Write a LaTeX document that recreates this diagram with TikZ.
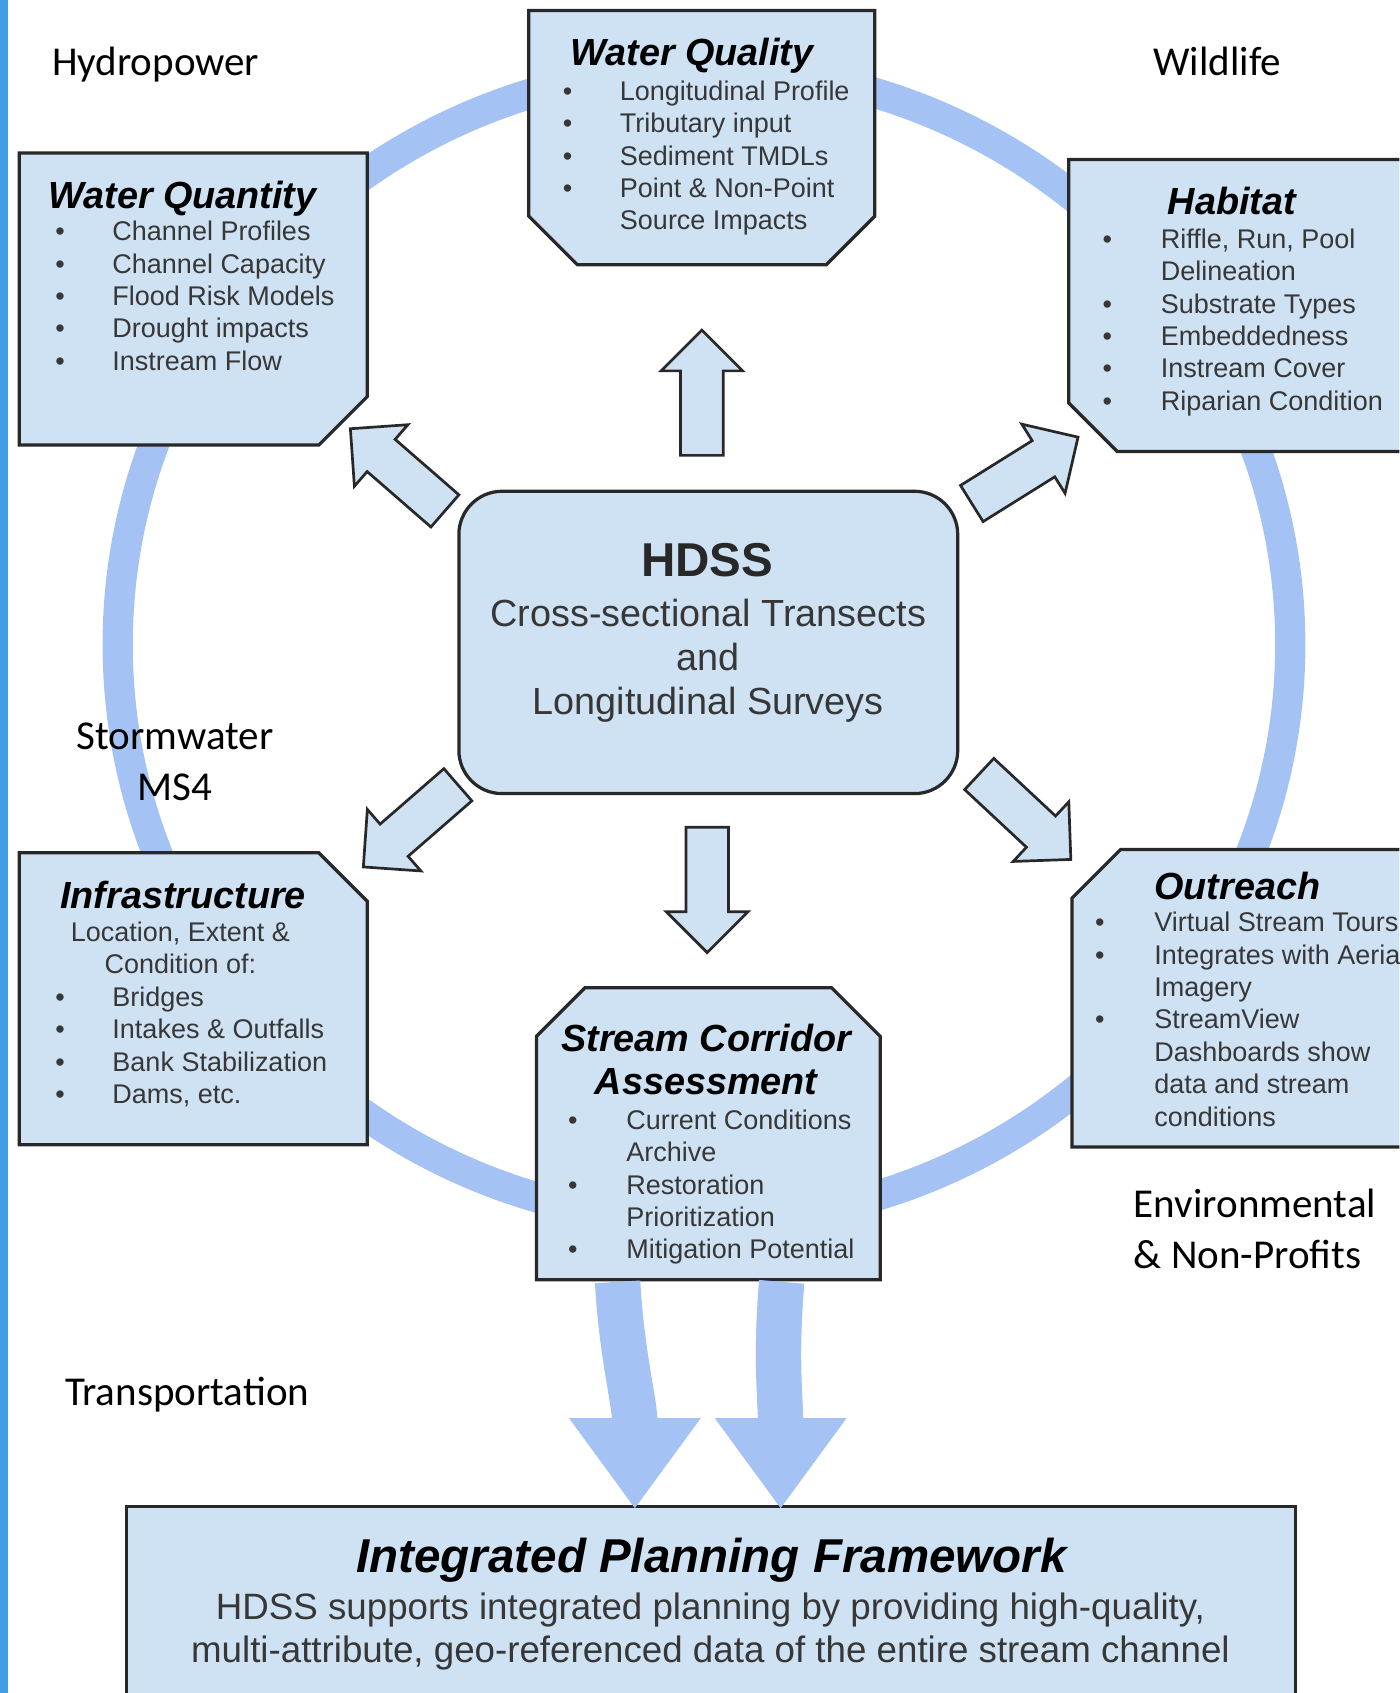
\documentclass[tikz,border=0pt]{standalone}
\usepackage{fontspec}
\setmainfont{Liberation Sans}
\newfontfamily\calibri{Carlito}
\usetikzlibrary{positioning, arrows.meta, shapes.arrows}

\definecolor{boxfill}{RGB}{207,226,243}
\definecolor{boxline}{RGB}{40,40,40}
\definecolor{ringblue}{RGB}{164,194,244}
\definecolor{edgeblue}{RGB}{62,160,226}
\definecolor{bodygray}{RGB}{55,55,55}

\newcommand{\bpt}{\textbullet}
\def\snip{45pt}

\begin{document}
\begin{tikzpicture}[
    x=1pt, y=-1pt,
    boxarea/.style={rectangle, inner sep=0pt},
    topicline/.style={draw=boxline, fill=boxfill, line width=3pt},
    boxtitle/.style={font=\fontsize{35}{40}\selectfont\bfseries\itshape, inner sep=0pt, anchor=base},
    bullets/.style={font=\fontsize{25}{30}\selectfont, text=bodygray, inner sep=0pt, anchor=base west},
    sidelabel/.style={font=\calibri\fontsize{38}{47}\selectfont, inner sep=0pt, anchor=base west},
    fanarrow/.style={single arrow, draw=boxline, fill=boxfill, line width=2.5pt, inner xsep=0pt, inner ysep=18.5pt,
        minimum height=116pt, minimum width=74pt, single arrow head extend=18pt, anchor=tail},
    bigarrow/.style={draw=ringblue, line width=42pt, -{Triangle[width=116pt, length=84pt]}}
]
    % Page
    \useasboundingbox (0,0) rectangle (1296,1568);
    \clip (0,0) rectangle (1296,1568);
    \fill[white] (0,0) rectangle (1296,1568);

    % Ring behind the boxes
    \draw[ringblue, line width=28pt] (652,597) ellipse [x radius=543pt, y radius=534pt];

    % Topic boxes (snipped corners)
    \node[boxarea, minimum width=320pt, minimum height=235pt] (wq) at (650,127.5) {};
    \draw[topicline] (wq.north west) -- (wq.north east) -- ([yshift=\snip]wq.south east)
        -- ([xshift=-\snip]wq.south east) -- ([xshift=\snip]wq.south west) -- ([yshift=\snip]wq.south west) -- cycle;

    \node[boxarea, minimum width=322pt, minimum height=270pt] (wqty) at (179,277) {};
    \draw[topicline] (wqty.north west) -- (wqty.north east) -- ([yshift=\snip]wqty.south east)
        -- ([xshift=-\snip]wqty.south east) -- (wqty.south west) -- cycle;

    \node[boxarea, minimum width=340pt, minimum height=270pt] (habitat) at (1160,283) {};
    \draw[topicline] (habitat.north west) -- (habitat.north east) -- (habitat.south east)
        -- ([xshift=\snip]habitat.south west) -- ([yshift=\snip]habitat.south west) -- cycle;

    \node[boxarea, minimum width=322pt, minimum height=270pt] (infra) at (179,925) {};
    \draw[topicline] (infra.north west) -- ([xshift=-\snip]infra.north east) -- ([yshift=-\snip]infra.north east)
        -- (infra.south east) -- (infra.south west) -- cycle;

    \node[boxarea, minimum width=318pt, minimum height=270pt] (sca) at (656,1050) {};
    \draw[topicline] ([xshift=\snip]sca.north west) -- ([xshift=-\snip]sca.north east) -- ([yshift=-\snip]sca.north east)
        -- (sca.south east) -- (sca.south west) -- ([yshift=-\snip]sca.north west) -- cycle;

    \node[boxarea, minimum width=337pt, minimum height=275pt] (outreach) at (1161.5,924.5) {};
    \draw[topicline] ([xshift=\snip]outreach.north west) -- (outreach.north east) -- (outreach.south east)
        -- (outreach.south west) -- ([yshift=-\snip]outreach.north west) -- cycle;

    % Centre and bottom boxes
    \node[draw=boxline, fill=boxfill, line width=3pt, rounded corners=40pt, minimum width=462pt, minimum height=280pt] (hdss) at (656,595) {};
    \node[draw=boxline, fill=boxfill, line width=3pt, minimum width=1083pt, minimum height=225pt] (fw) at (658.5,1507.5) {};

    % Block arrows out of HDSS
    \node[fanarrow, rotate=90] (toWQ) at (650,423) {};
    \node[fanarrow, rotate=-90] (toSCA) at (655,765) {};
    \node[fanarrow, rotate=139] (toWQty) at (413,474) {};
    \node[fanarrow, rotate=32] (toHabitat) at (899,467) {};
    \node[fanarrow, rotate=221] (toInfra) at (425,726) {};
    \node[fanarrow, rotate=-43] (toOutreach) at (906,716) {};

    % Big arrows into the framework
    \draw[bigarrow] ([shift={(-84,2)}]sca.south) .. controls +(4,70) and +(0,-100) .. ([shift={(-70.5,4)}]fw.north);
    \draw[bigarrow] ([shift={(68,2)}]sca.south) .. controls +(-6,70) and +(0,-100) .. ([shift={(64.5,4)}]fw.north);

    % Water Quality
    \node[boxtitle] (wqTitle) at (641,61) {Water Quality};
    \node[bullets] (wqList) at (521,93) {\begin{tabular}[t]{@{}p{53pt}@{}l@{}}
        \bpt & Longitudinal Profile\\ \bpt & Tributary input\\ \bpt & Sediment TMDLs\\
        \bpt & Point \& Non-Point\\ & Source Impacts\end{tabular}};

    % Water Quantity
    \node[boxtitle] (wqtyTitle) at (169,193) {Water Quantity};
    \node[bullets] (wqtyList) at (51,223) {\begin{tabular}[t]{@{}p{53pt}@{}l@{}}
        \bpt & Channel Profiles\\ \bpt & Channel Capacity\\ \bpt & Flood Risk Models\\
        \bpt & Drought impacts\\ \bpt & Instream Flow\end{tabular}};

    % Habitat
    \node[boxtitle] (habitatTitle) at (1141,199) {Habitat};
    \node[bullets] (habitatList) at (1021,230) {\begin{tabular}[t]{@{}p{54pt}@{}l@{}}
        \bpt & Riffle, Run, Pool\\ & Delineation\\ \bpt & Substrate Types\\
        \bpt & Embeddedness\\ \bpt & Instream Cover\\ \bpt & Riparian Condition\end{tabular}};

    % Infrastructure
    \node[boxtitle] (infraTitle) at (169.5,841) {Infrastructure};
    \node[bullets, anchor=base] (infraIntro) at (167,872) {\begin{tabular}[t]{@{}c@{}}
        Location, Extent \&\\ Condition of:\end{tabular}};
    \node[bullets] (infraList) at (51,932) {\begin{tabular}[t]{@{}p{53pt}@{}l@{}}
        \bpt & Bridges\\ \bpt & Intakes \& Outfalls\\ \bpt & Bank Stabilization\\
        \bpt & Dams, etc.\end{tabular}};

    % Stream Corridor Assessment
    \node[boxtitle] (scaTitle) at (654,974) {\begin{tabular}[t]{@{}c@{}}Stream Corridor\\ Assessment\end{tabular}};
    \node[bullets] (scaList) at (526,1046) {\begin{tabular}[t]{@{}p{54pt}@{}l@{}}
        \bpt & Current Conditions\\ & Archive\\ \bpt & Restoration\\
        & Prioritization\\ \bpt & Mitigation Potential\end{tabular}};

    % Outreach
    \node[boxtitle] (outreachTitle) at (1146,833) {Outreach};
    \node[bullets] (outreachList) at (1014,863) {\begin{tabular}[t]{@{}p{55pt}@{}l@{}}
        \bpt & Virtual Stream Tours\\ \bpt & Integrates with Aerial\\ & Imagery\\
        \bpt & StreamView\\ & Dashboards show\\ & data and stream\\ & conditions\end{tabular}};

    % HDSS
    \node[font=\fontsize{44}{50}\selectfont\bfseries, text=boxline, inner sep=0pt, anchor=base] (hdssTitle) at (655,534) {HDSS};
    \node[font=\fontsize{35}{41}\selectfont, text=bodygray, inner sep=0pt, anchor=base] (hdssText) at (656,580) {\begin{tabular}[t]{@{}c@{}}
        Cross-sectional Transects\\ and\\ Longitudinal Surveys\end{tabular}};

    % Framework
    \node[font=\fontsize{44}{50}\selectfont\bfseries\itshape, inner sep=0pt, anchor=base] (fwTitle) at (659,1456) {Integrated Planning Framework};
    \node[font=\fontsize{34}{40}\selectfont, text=bodygray, inner sep=0pt, anchor=base] (fwText) at (658,1500) {\begin{tabular}[t]{@{}c@{}}
        HDSS supports integrated planning by providing high-quality,\\
        multi-attribute, geo-referenced data of the entire stream channel\end{tabular}};

    % Stakeholder labels
    \node[sidelabel] (hydro) at (48,70) {Hydropower};
    \node[sidelabel] (wildlife) at (1068,70) {Wildlife};
    \node[sidelabel, anchor=base] (storm) at (162,694) {\begin{tabular}[t]{@{}c@{}}Stormwater\\ MS4\end{tabular}};
    \node[sidelabel] (enviro) at (1050,1128) {\begin{tabular}[t]{@{}l@{}}Environmental\\ \& Non-Profits\end{tabular}};
    \node[sidelabel] (transport) at (60,1302) {Transportation};

    % Left edge
    \fill[edgeblue] (0,0) rectangle (7,1568);
\end{tikzpicture}
\end{document}
